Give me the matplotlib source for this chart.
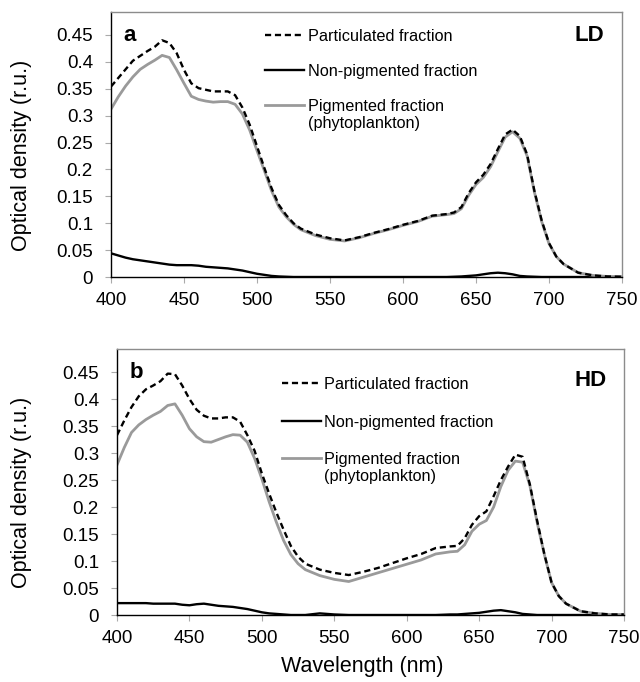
import matplotlib
matplotlib.use("Agg")
import matplotlib.pyplot as plt
from matplotlib.lines import Line2D
from matplotlib.transforms import offset_copy

plt.rcParams['font.family'] = ['Liberation Sans', 'DejaVu Sans']

# wavelengths (nm) at which values were read
wl = [400, 405, 410, 415, 420, 425, 430, 435, 440, 445, 450, 455, 460, 465, 470,
      475, 480, 485, 490, 495, 500, 505, 510, 515, 520, 525, 530, 540, 550, 560,
      570, 580, 590, 600, 610, 620, 630, 635, 640, 645, 650, 655, 660, 665, 670,
      675, 680, 685, 690, 695, 700, 705, 710, 720, 730, 740, 750]

# panel a - LD
ld_part = [0.354, 0.370, 0.386, 0.402, 0.411, 0.420, 0.428, 0.440, 0.435, 0.416, 0.385,
           0.360, 0.351, 0.348, 0.345, 0.345, 0.345, 0.338, 0.315, 0.283, 0.243, 0.203,
           0.165, 0.134, 0.115, 0.100, 0.090, 0.079, 0.072, 0.068, 0.074, 0.082, 0.089,
           0.097, 0.104, 0.114, 0.117, 0.120, 0.130, 0.156, 0.176, 0.190, 0.210, 0.238,
           0.265, 0.274, 0.262, 0.228, 0.160, 0.105, 0.063, 0.038, 0.024, 0.008, 0.003,
           0.001, 0.0005]
ld_nonpig = [0.044, 0.040, 0.036, 0.033, 0.031, 0.029, 0.027, 0.025, 0.023, 0.022, 0.022,
             0.022, 0.021, 0.019, 0.018, 0.017, 0.016, 0.014, 0.012, 0.009, 0.006, 0.004,
             0.002, 0.001, 0.0005, 0.0, 0.0, 0.0, 0.0, 0.0, 0.0, 0.0, 0.0, 0.0, 0.0, 0.0,
             0.0, 0.0005, 0.001, 0.002, 0.003, 0.005, 0.007, 0.008, 0.007, 0.005, 0.002,
             0.001, 0.0005, 0.0, 0.0, 0.0, 0.0, 0.0, 0.0, 0.0, 0.0]
ld_pig = [0.312, 0.335, 0.355, 0.372, 0.386, 0.395, 0.403, 0.412, 0.408, 0.385, 0.360,
          0.336, 0.330, 0.327, 0.325, 0.326, 0.326, 0.321, 0.303, 0.273, 0.235, 0.198,
          0.160, 0.130, 0.112, 0.098, 0.088, 0.077, 0.070, 0.067, 0.073, 0.081, 0.088,
          0.096, 0.103, 0.113, 0.116, 0.118, 0.127, 0.152, 0.172, 0.185, 0.205, 0.233,
          0.260, 0.270, 0.258, 0.225, 0.158, 0.103, 0.062, 0.038, 0.024, 0.008, 0.003,
          0.001, 0.0005]

# panel b - HD
hd_part = [0.333, 0.360, 0.385, 0.405, 0.418, 0.425, 0.433, 0.447, 0.446, 0.425, 0.400,
           0.380, 0.369, 0.364, 0.364, 0.366, 0.366, 0.358, 0.333, 0.304, 0.262, 0.225,
           0.190, 0.158, 0.128, 0.108, 0.095, 0.084, 0.078, 0.074, 0.080, 0.087, 0.096,
           0.105, 0.113, 0.124, 0.127, 0.128, 0.142, 0.167, 0.183, 0.192, 0.220, 0.250,
           0.275, 0.297, 0.293, 0.242, 0.175, 0.113, 0.060, 0.035, 0.021, 0.007, 0.003,
           0.001, 0.001]
hd_nonpig = [0.022, 0.022, 0.022, 0.022, 0.022, 0.021, 0.021, 0.021, 0.021, 0.019, 0.018,
             0.020, 0.021, 0.019, 0.017, 0.016, 0.015, 0.013, 0.011, 0.008, 0.005, 0.003,
             0.002, 0.001, 0.0, 0.0, 0.0, 0.003, 0.001, 0.0, 0.0, 0.0, 0.0, 0.0, 0.0, 0.0,
             0.001, 0.001, 0.002, 0.003, 0.004, 0.006, 0.008, 0.009, 0.007, 0.005, 0.002,
             0.001, 0.0, 0.0, 0.0, 0.0, 0.0, 0.0, 0.0, 0.0, 0.0]
hd_pig = [0.278, 0.310, 0.338, 0.352, 0.362, 0.370, 0.377, 0.388, 0.391, 0.370, 0.345,
          0.330, 0.321, 0.320, 0.325, 0.330, 0.334, 0.333, 0.320, 0.290, 0.252, 0.210,
          0.172, 0.138, 0.112, 0.095, 0.084, 0.073, 0.066, 0.062, 0.070, 0.078, 0.086,
          0.094, 0.102, 0.113, 0.117, 0.118, 0.130, 0.155, 0.168, 0.175, 0.200, 0.238,
          0.268, 0.285, 0.283, 0.240, 0.172, 0.112, 0.060, 0.035, 0.021, 0.007, 0.003,
          0.001, 0.001]

labels = ["Particulated fraction", "Non-pigmented fraction", "Pigmented fraction\n(phytoplankton)"]
yticks = [0, 0.05, 0.1, 0.15, 0.2, 0.25, 0.3, 0.35, 0.4, 0.45]
ytick_labels = ["0", "0.05", "0.1", "0.15", "0.2", "0.25", "0.3", "0.35", "0.4", "0.45"]
xticks = [400, 450, 500, 550, 600, 650, 700, 750]

GRAY = "#9a9a9a"
styles = [dict(color="black", lw=1.7, ls=(0, (2.6, 1.6))),
          dict(color="black", lw=1.7, ls="-"),
          dict(color=GRAY, lw=2.0, ls="-")]

fig = plt.figure(figsize=(6.4, 6.82), dpi=100)
ax1 = fig.add_axes([111/640, 1-277/682, (622-111)/640, (277-12)/682])
ax2 = fig.add_axes([117/640, 1-615/682, (624-117)/640, (615-349)/682])


def draw(ax, part, nonpig, pig, letter, tag, tag_y, leg_x, leg_y, ylab_x, show_xlabel):
    ax.plot(wl, nonpig, **styles[1])
    ax.plot(wl, pig, **styles[2])
    ax.plot(wl, part, **styles[0])
    ax.set_xlim(400, 750)
    ax.set_ylim(0, 0.4926)
    ax.set_xticks(xticks)
    ax.set_yticks(yticks)
    ax.set_yticklabels(ytick_labels)
    ax.tick_params(direction="out", length=4, color="#aaaaaa", labelsize=13.5)
    ax.tick_params(axis="y", pad=9)
    ax.tick_params(axis="x", pad=7)
    for s in ["left", "bottom"]:
        ax.spines[s].set_color("black")
        ax.spines[s].set_linewidth(1.0)
    for s in ["top", "right"]:
        ax.spines[s].set_color("#8c8c8c")
        ax.spines[s].set_linewidth(1.0)
    ax.set_ylabel("Optical density (r.u.)", fontsize=15.5)
    ax.yaxis.set_label_coords(ylab_x, 0.46)
    if show_xlabel:
        ax.set_xlabel("Wavelength (nm)", fontsize=15.5)
        ax.xaxis.set_label_coords(0.483, -0.155)
    ax.text(0.025, tag_y, letter, transform=ax.transAxes, fontsize=16,
            fontweight="bold", va="center", ha="left")
    ax.text(0.965, tag_y - (0.03 if tag == "HD" else 0), tag, transform=ax.transAxes,
            fontsize=16, fontweight="bold", va="center", ha="right")
    for st, lab, yy in zip(styles, labels, leg_y):
        ax.add_line(Line2D([leg_x, leg_x + 0.077], [yy, yy], transform=ax.transAxes, **st))
        for i, line in enumerate(lab.split("\n")):
            tr = offset_copy(ax.transAxes, fig=ax.figure, y=-4.3 - 12.3 * i, units="points")
            ax.text(leg_x + 0.084, yy, line, transform=tr, fontsize=11.7,
                    va="baseline", ha="left")


draw(ax1, ld_part, ld_nonpig, ld_pig, "a", "LD", 0.913, 0.301, [0.913, 0.781, 0.649], -0.155, False)
draw(ax2, hd_part, hd_nonpig, hd_pig, "b", "HD", 0.913, 0.325, [0.872, 0.730, 0.591], -0.168, True)

fig.savefig("out.png", dpi=100)
